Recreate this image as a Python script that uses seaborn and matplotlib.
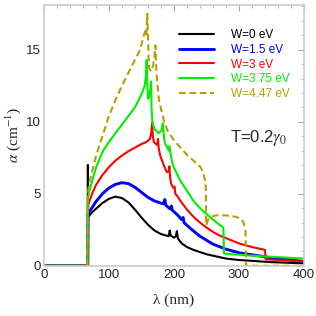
import pandas as pd
import matplotlib.pyplot as plt
import seaborn as sns
from matplotlib.ticker import MultipleLocator

sns.set_theme(style="white")
plt.rcParams['font.family'] = ['Liberation Sans', 'DejaVu Sans']
plt.rcParams['mathtext.fontset'] = 'stix'

# absorption spectra: wavelength (nm) and alpha (cm^-1)
lam_w0 = [0, 67.3, 67.6, 68.0, 70, 75, 80, 90, 100, 110, 120, 130, 140, 150, 160, 170, 180,
          188, 192, 193.5, 195, 200, 203, 204.5, 206, 212, 220, 230, 250, 280, 300, 350, 400]
a_w0 = [0, 0, 7.0, 3.4, 3.5, 3.75, 3.95, 4.35, 4.65, 4.8, 4.7, 4.4, 3.9, 3.35, 2.85, 2.45, 2.2,
        2.1, 2.05, 2.45, 2.1, 1.95, 2.05, 2.4, 1.9, 1.55, 1.3, 1.1, 0.8, 0.5, 0.4, 0.25, 0.17]

lam_w15 = [0, 67.5, 68.0, 70, 75, 80, 90, 100, 110, 120, 130, 140, 150, 160, 170, 180, 184,
           186, 187.5, 194, 196, 197.5, 205, 212, 214, 215.5, 225, 240, 260, 280, 300, 350, 400]
a_w15 = [0, 0, 3.6, 3.75, 4.1, 4.45, 5.0, 5.4, 5.65, 5.77, 5.7, 5.45, 5.1, 4.75, 4.5, 4.35, 4.3,
         4.6, 4.2, 3.95, 4.15, 3.85, 3.55, 3.2, 3.35, 3.0, 2.6, 2.05, 1.5, 1.15, 0.9, 0.55, 0.3]

lam_w3 = [0, 67.5, 68.0, 70, 75, 80, 90, 100, 110, 120, 130, 140, 150, 158, 163, 165, 166.5,
          167.5, 169, 171, 174, 175.5, 176.5, 178.5, 185, 189, 192, 193, 194, 195.5, 199, 201,
          202, 205, 210, 220, 230, 240, 250, 260, 270, 281, 300, 320, 340, 341, 360, 400]
a_w3 = [0, 0, 4.2, 4.5, 5.1, 5.6, 6.3, 6.85, 7.3, 7.65, 7.95, 8.2, 8.45, 8.6, 8.8, 9.2, 9.95,
        9.0, 8.6, 8.5, 8.4, 8.8, 8.2, 7.7, 6.9, 6.5, 6.55, 6.9, 6.2, 5.7, 5.4, 5.5,
        5.0, 4.85, 4.5, 3.9, 3.4, 3.0, 2.65, 2.35, 2.1, 1.9, 1.55, 1.3, 1.1, 0.45, 0.4, 0.3]

lam_w375 = [0, 67.0, 67.5, 70, 75, 80, 90, 100, 110, 120, 130, 140, 150, 155, 157, 158, 159,
            160.5, 162, 164, 164.8, 165.5, 167, 170, 176, 181, 183, 184.5, 186, 190, 192, 193,
            195, 199, 210, 220, 230, 240, 250, 260, 270, 276, 277, 290, 320, 350, 400]
a_w375 = [0, 0, 4.7, 5.2, 6.0, 6.8, 7.9, 8.6, 9.2, 9.8, 10.4, 11.0, 11.9, 12.5, 13.2, 14.3, 12.5,
          11.6, 11.8, 12.3, 12.8, 11.0, 9.9, 9.5, 9.2, 9.4, 9.9, 9.0, 8.5, 8.2, 8.0, 8.3,
          7.7, 6.9, 5.9, 5.2, 4.5, 4.0, 3.6, 3.2, 2.85, 2.65, 0.85, 0.8, 0.7, 0.62, 0.5]

lam_w447 = [66.5, 67.5, 70, 75, 80, 90, 100, 110, 120, 130, 140, 148, 153, 156, 157.5, 159, 160,
            161, 162, 165, 168, 170, 171.5, 172.5, 174, 177, 180, 185, 190, 200, 210, 220, 230,
            240, 244, 247, 249, 249.5, 252, 257, 265, 280, 295, 303, 307, 310, 311, 400]
a_w447 = [0, 5.0, 5.8, 6.7, 7.6, 9.0, 10.4, 11.5, 12.5, 13.4, 14.3, 15.0, 15.9, 16.3, 16.0, 17.5,
          16.0, 14.5, 13.7, 13.5, 13.9, 14.5, 15.3, 14.0, 12.8, 11.5, 10.9, 10.0, 9.4, 8.7, 8.2,
          7.7, 7.3, 6.9, 6.6, 6.1, 5.5, 2.8, 3.15, 3.4, 3.5, 3.5, 3.4, 3.25, 3.0, 2.4, 0, 0]

labels = ['W=0 eV', 'W=1.5 eV', 'W=3 eV', 'W=3.75 eV', 'W=4.47 eV']
colors = ['#000000', '#0000ff', '#ff0000', '#00ee00', '#b3a000']
series = [(lam_w0, a_w0), (lam_w15, a_w15), (lam_w3, a_w3), (lam_w375, a_w375), (lam_w447, a_w447)]

rows = []
for lab, (xs, ys) in zip(labels, series):
    for x, y in zip(xs, ys):
        rows.append({'lam': x, 'alpha': y, 'W': lab})
df = pd.DataFrame(rows)

fig = plt.figure(figsize=(3.16, 3.16), dpi=100)
ax = fig.add_axes([0.139, 0.159, 0.823, 0.825])

sns.lineplot(data=df, x='lam', y='alpha', hue='W', style='W', hue_order=labels, style_order=labels,
             palette=colors, dashes=[(), (), (), (), (3.2, 1.8)], size='W', sizes=[1.5, 2.1, 1.5, 1.5, 1.5],
             size_order=labels, estimator=None, sort=False, units='W', ax=ax)

ax.set_xlim(0, 400)
ax.set_ylim(0, 18.1)
ax.xaxis.set_major_locator(MultipleLocator(100))
ax.xaxis.set_minor_locator(MultipleLocator(20))
ax.yaxis.set_major_locator(MultipleLocator(5))
ax.yaxis.set_minor_locator(MultipleLocator(1))
ax.tick_params(which='both', direction='in', top=True, right=True, color='#aaaaaa',
               labelsize=9.5, pad=2)
ax.tick_params(which='major', length=4, width=0.8)
ax.tick_params(which='minor', length=2.5, width=0.6)
for s in ax.spines.values():
    s.set_color('#cccccc')
    s.set_linewidth(1.2)

ax.set_xlabel('λ (nm)', family=['Liberation Serif', 'DejaVu Serif'], fontsize=11, labelpad=9)
ax.set_ylabel(r'$\alpha$ (cm$^{-1}$)', family=['Liberation Serif', 'DejaVu Serif'], fontsize=11, labelpad=2)

leg = ax.legend(loc='upper left', bbox_to_anchor=(0.50, 0.925), frameon=False, fontsize=8.5,
                handlelength=3.0, handletextpad=1.4, labelspacing=0.22, borderaxespad=0)
for t, c in zip(leg.get_texts(), colors):
    t.set_color(c)

ax.text(286, 8.6, r'T=0.2$\gamma_0$', fontsize=12, va='baseline', ha='left')

fig.savefig('out.png', dpi=100)
